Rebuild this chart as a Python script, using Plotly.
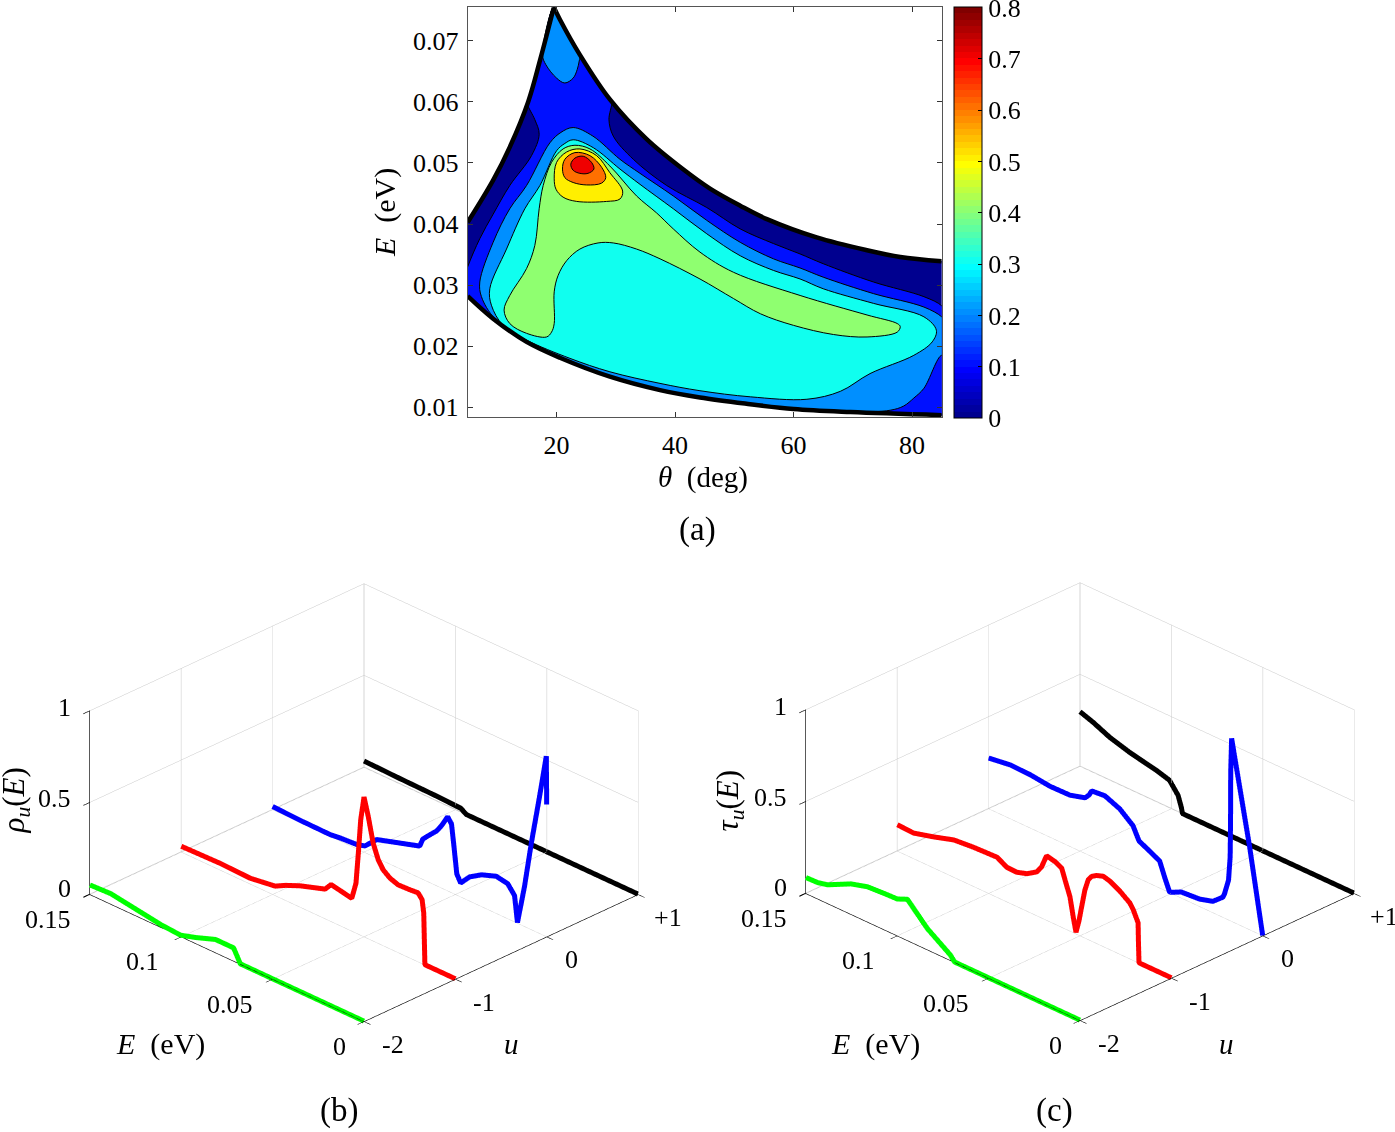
import plotly.graph_objects as go

W, H = 1395, 1132
FONT = "Liberation Serif"
BLACK = "#000000"

# ---------- panel (a): contour regions (theta deg, E eV)
upper_left_theta = [5, 9.3, 12.1, 15.2, 17.2, 19.54]
upper_left_E = [.0403, .0472, .0526, .0600, .0668, .0755]
upper_right_theta = [19.54, 20.56, 23.94, 29.0, 35.2, 41.3, 45.9, 51.0, 55.5, 63.9, 72.4, 78, 85]
upper_right_E = [.0755, .0735, .0677, .0604, .0539, .0490, .0458, .0430, .0408, .0378, .0357, .0346, .0339]
lower_theta = [5, 9.29, 14.93, 20.56, 29.0, 37.46, 44.2, 51.8, 60, 69.6, 85]
lower_E = [.0282, .0245, .0207, .0181, .0150, .0128, .0116, .0106, .0097, .0092, .0087]

# navy base region, carried past both side edges of the frame
base_theta = [1, 90, 90, 1]
base_E = [.0350, .0337, .0085, .0320]

blue_theta = [5, 7.04, 9.29, 12.1, 15.77, 17.06, 16.33, 15.1, 15.2, 17.2, 19.54, 20.56, 23.94, 29.0, 29.3, 28.84, 29.57, 32.95, 38.6, 45.35, 51, 56.6, 61.1, 65, 73.5, 82, 85, 86, 86, 85, 69.6, 60, 51.8, 44.2, 37.46, 29.0, 20.56, 14.93, 9.29, 5, 4]
blue_E = [.0330, .0376, .0416, .0463, .0512, .0547, .0571, .0596, .0600, .0668, .0755, .0735, .0677, .0604, .0599, .0571, .0544, .0506, .0463, .0427, .0392, .0368, .0351, .0335, .0305, .0281, .0266, .0250, .0087, .0087, .0092, .0097, .0106, .0116, .0128, .0150, .0181, .0207, .0245, .0282, .0300]

sky_theta = [9.57, 7.32, 7.04, 9.29, 12.1, 14.93, 18.87, 20.73, 22.8, 26.13, 30.7, 34.08, 39.7, 45.35, 51, 56.6, 61.1, 65, 73.5, 82, 85, 86, 86, 85, 82, 80.3, 78.6, 76.3, 69.6, 60, 51.8, 44.2, 37.46, 29, 20.56, 14.93]
sky_E = [.0245, .0281, .0305, .0370, .0425, .0463, .0533, .0550, .0558, .0544, .0506, .0483, .0446, .0406, .0370, .0343, .0328, .0313, .0286, .0264, .0248, .0235, .0175, .0185, .0131, .0115, .0102, .0095, .0092, .0097, .0106, .0116, .0128, .0150, .0181, .0207]

peak_theta = [19.54, 17.63, 18.19, 20, 21.4, 22.8, 23.48, 23.82, 23.94, 20.56]
peak_E = [.0755, .0677, .0661, .0639, .0631, .0639, .0653, .0667, .0677, .0735]

cyan_theta = [14.93, 10.97, 9, 8.73, 11.55, 14.64, 17.18, 20, 21.4, 22.8, 26.2, 30.7, 34.08, 39.7, 45.35, 51, 56.6, 61.1, 65, 73.5, 82, 84.1, 83.4, 80.3, 72.9, 67.9, 62.25, 52.7, 44.2, 37.46, 29, 22.25]
cyan_E = [.0210, .0234, .0267, .0294, .0359, .0425, .0463, .0520, .0532, .0538, .0525, .0490, .0465, .0425, .0384, .0348, .0324, .0310, .0294, .0270, .0248, .0226, .0207, .0185, .0155, .0126, .0113, .0117, .0127, .0139, .0158, .0180]

green_theta = [18.31, 14.93, 12.1, 11.14, 12.1, 14.93, 16.33, 17.06, 17.74, 19.15, 21.1, 23.1, 25.63, 29, 33.5, 36.9, 39.7, 44.2, 49.85, 61.1, 72.4, 77.5, 78, 77.5, 72.4, 66.75, 60, 54.4, 49.85, 44.2, 37.46, 33.5, 29.57, 27, 23.94, 21.7, 20.27, 19.6, 19.6, 19.15]
green_E = [.0215, .0221, .0237, .0259, .0283, .0327, .0365, .0425, .0463, .0501, .0523, .0529, .0523, .0495, .0446, .0418, .0392, .0354, .0321, .0283, .0251, .0237, .0232, .0223, .0215, .0219, .0234, .0253, .0278, .0310, .0343, .0359, .0369, .0369, .0359, .0340, .0316, .0289, .0237, .0223]

yellow_theta = [19.6, 20, 21.7, 23.94, 26.76, 29, 31.15, 30.7, 28.45, 23.4, 21.1, 19.9]
yellow_E = [.0474, .0501, .0518, .0523, .0512, .0484, .0454, .0441, .0437, .0437, .0444, .0457]

orange_theta = [21, 21.4, 23.1, 25.63, 27.6, 28.3, 27.6, 25.07, 22.8, 21.4]
orange_E = [.0490, .0506, .0517, .0512, .0493, .0476, .0467, .0464, .0468, .0476]

red_theta = [22.4, 23.1, 24.5, 25.9, 26.3, 25.3, 23.94, 22.8]
red_E = [.0498, .0508, .0511, .0501, .0490, .0483, .0483, .0488]

# ---------- panel (b): rho_u(E) curves
rho_black_E = [.15, .13, .11, .097, .094, 0]
rho_black = [.033, .028, .025, .02, 0, 0]
rho_blue_E = [.15, .135, .1185, .113, .104, .0995, .093, .0695, .0678, .0651, .0602, .0576, .0542, .0521, .0509, .0492, .0471, .0422, .0356, .0276, .0213, .0176, .016, .0122, .0084, .004, .0002, 0]
rho_blue = [.016, .01, .008, .015, .021, .034, .099, .172, .218, .247, .298, .338, .403, .373, .269, .114, .074, .13, .172, .201, .189, .142, .002, .213, .471, .74, .983, .72]
rho_red_E = [.15, .1286, .1122, .0986, .093, .0849, .0713, .068, .063, .0567, .0544, .0531, .0518, .05, .0477, .045, .0422, .0395, .0358, .0313, .0249, .0204, .0182, .0173, .0167, .0167, 0]
rho_red = [.03, .035, .03, .05, .08, .115, .16, .20, .19, .177, .27, .441, .629, .761, .667, .533, .454, .412, .384, .368, .371, .375, .348, .279, .009, 0, 0]
rho_green_E = [.15, .1386, .1223, .1113, .1004, .0923, .0813, .0714, .0677, 0]
rho_green = [.05, .055, .03, .013, .005, .03, .07, .07, 0, 0]

# ---------- panel (c): tau_u(E) curves
tau_black_E = [.15, .1428, .1337, .1227, .1082, .101, .0963, .0945, .0939, 0]
tau_black = [.297, .272, .232, .20, .17, .149, .088, .03, 0, 0]
tau_blue_E = [.15, .1382, .1272, .1164, .1055, .0972, .095, .0936, .0864, .0782, .071, .0677, .0564, .0536, .0509, .0446, .0345, .0273, .0218, .0209, .0187, .0178, .0176, .0175, .017, .0155, .0072, 0]
tau_blue = [.275, .292, .289, .276, .278, .302, .328, .356, .363, .329, .271, .203, .146, .068, 0, .031, .039, .06, .108, .131, .215, .348, .535, .812, .997, .912, .454, 0]
tau_red_E = [.15, .141, .13, .1191, .1082, .0954, .09, .0846, .079, .0736, .071, .0683, .0664, .0637, .06, .0582, .0555, .0537, .0522, .0505, .0491, .0473, .0455, .0436, .041, .0373, .0336, .0282, .0228, .0209, .0182, .018, .0177, 0]
tau_red = [.142, .138, .168, .202, .212, .217, .187, .185, .203, .238, .278, .35, .346, .34, .321, .265, .186, .083, .007, .08, .161, .261, .325, .352, .369, .382, .372, .343, .304, .276, .216, .106, 0, 0]
tau_green_E = [.15, .1436, .1382, .1254, .1164, .1073, .1, .0945, .0836, .071, .0686, 0]
tau_green = [.085, .087, .10, .164, .19, .196, .199, .223, .114, .028, 0, 0]

u_ticks = [-2, -1, 0, 1]
u_labels = ["-2", "-1", "0", "+1"]
E_ticks = [0.15, 0.1, 0.05, 0]
E_labels = ["0.15", "0.1", "0.05", "0"]
z_ticks = [0, 0.5, 1]
z_labels = ["0", "0.5", "1"]
cbar_ticks = [0, .1, .2, .3, .4, .5, .6, .7, .8]
cbar_labels = ["0", "0.1", "0.2", "0.3", "0.4", "0.5", "0.6", "0.7", "0.8"]


def rgb(t):
    def c(v):
        return round(255 * max(0.0, min(1.0, v)))
    return f"rgb({c(1.5 - abs(4 * t - 3))},{c(1.5 - abs(4 * t - 2))},{c(1.5 - abs(4 * t - 1))})"


steps = 64
stepped = []
for i in range(steps):
    col = rgb((i + 1) / steps)
    stepped += [[i / steps, col], [(i + 1) / steps, col]]

fig = go.Figure()
SMOOTH = 1.0


def region(th, en, color, outline=True):
    fig.add_trace(go.Scatter(
        x=th + th[:1], y=en + en[:1], mode="lines", fill="toself", fillcolor=color,
        line=dict(color=BLACK if outline else color, width=1, shape="spline", smoothing=SMOOTH),
        hoverinfo="skip", showlegend=False))


region(base_theta[:1] + upper_left_theta + upper_right_theta[1:] + base_theta[1:3] + lower_theta[::-1] + base_theta[3:],
       base_E[:1] + upper_left_E + upper_right_E[1:] + base_E[1:3] + lower_E[::-1] + base_E[3:],
       rgb(1 / 64), outline=False)
region(blue_theta, blue_E, rgb(9 / 64))
region(sky_theta, sky_E, rgb(17 / 64))
region(peak_theta, peak_E, rgb(17 / 64))
region(cyan_theta, cyan_E, rgb(25 / 64))
region(green_theta, green_E, rgb(33 / 64))
region(yellow_theta, yellow_E, rgb(41 / 64))
region(orange_theta, orange_E, rgb(49 / 64))
region(red_theta, red_E, rgb(57 / 64))

for tx, ty in ((upper_left_theta, upper_left_E), (upper_right_theta, upper_right_E), (lower_theta, lower_E)):
    fig.add_trace(go.Scatter(x=tx, y=ty, mode="lines",
                             line=dict(color=BLACK, width=4.5, shape="spline", smoothing=SMOOTH),
                             hoverinfo="skip", showlegend=False))

# colour bar
fig.add_trace(go.Scatter(
    x=[None, None], y=[None, None], mode="markers", hoverinfo="skip", showlegend=False,
    marker=dict(color=[0, 0.8], cmin=0, cmax=0.8005, colorscale=stepped, showscale=True,
                colorbar=dict(x=954.3 / W, xanchor="left", xref="paper", y=1 - 420 / H, yanchor="bottom",
                              yref="paper", len=412.7 / H, lenmode="fraction", thickness=28, thicknessmode="pixels",
                              xpad=0, ypad=0, outlinecolor=BLACK, outlinewidth=1, ticks="inside", ticklen=4,
                              tickcolor=BLACK, tickvals=cbar_ticks, ticktext=cbar_labels, ticklabeloverflow="allow",
                              tickfont=dict(family=FONT, size=26, color=BLACK))),
))


def curves(scene, sets):
    for en, z, u, col in sets:
        fig.add_trace(go.Scatter3d(x=[u] * len(en), y=en, z=z, mode="lines", scene=scene,
                                   line=dict(color=col, width=10), hoverinfo="skip", showlegend=False))


curves("scene", [(rho_black_E, rho_black, 1, "#000000"), (rho_blue_E, rho_blue, 0, "#0000ff"),
                 (rho_red_E, rho_red, -1, "#ff0000"), (rho_green_E, rho_green, -2, "#00ff00")])
curves("scene2", [(tau_black_E, tau_black, 1, "#000000"), (tau_blue_E, tau_blue, 0, "#0000ff"),
                  (tau_red_E, tau_red, -1, "#ff0000"), (tau_green_E, tau_green, -2, "#00ff00")])


def scene_notes():
    notes = []
    base = dict(showarrow=False, font=dict(family=FONT, size=26, color=BLACK), yanchor="middle")
    for e, t, dx in zip(E_ticks, E_labels, (-17, -20, -18, -16)):
        notes.append(dict(base, x=-2, y=e, z=0, text=t, xanchor="right", xshift=dx, yshift=-25))
    for u, t, dx in zip(u_ticks, u_labels, (16, 16, 16, 14)):
        notes.append(dict(base, x=u, y=0, z=0, text=t, xanchor="left", xshift=dx, yshift=-23))
    for z, t, dy in zip(z_ticks, z_labels, (6, 4, 4)):
        notes.append(dict(base, x=-2, y=0.15, z=z, text=t, xanchor="right", xshift=-17, yshift=dy))
    return notes


def scene_cfg(cx, cy):
    half_w, half_h = 315, 300
    ax = dict(showbackground=False, showgrid=True, gridcolor="#c8c8c8", gridwidth=1, zeroline=False,
              showline=True, linecolor=BLACK, linewidth=1.4, ticks="outside", ticklen=9, tickcolor=BLACK,
              tickwidth=1.4, showticklabels=False, title=dict(text=""), showspikes=False, autorange=False)
    A = 1.30
    return dict(
        domain=dict(x=[(cx - half_w) / W, (cx + half_w) / W], y=[1 - (cy + half_h) / H, 1 - (cy - half_h) / H]),
        xaxis=dict(ax, range=[-2.002, 1.002], tickvals=u_ticks),
        yaxis=dict(ax, range=[-0.0001, 0.1501], tickvals=E_ticks),
        zaxis=dict(ax, range=[-0.002, 1.002], tickvals=z_ticks),
        aspectmode="manual", aspectratio=dict(x=A, y=A, z=0.535 * A),
        camera=dict(projection=dict(type="orthographic"), up=dict(x=0, y=0, z=1), center=dict(x=0, y=0, z=0),
                    eye=dict(x=-1, y=-1, z=0.74)),
        bgcolor="white", annotations=scene_notes())


def note(px, py, text, size=25, angle=0):
    return dict(xref="paper", yref="paper", x=px / W, y=1 - py / H, text=text, showarrow=False,
                xanchor="center", yanchor="middle", textangle=angle,
                font=dict(family=FONT, size=size, color=BLACK))


notes = [
    note(703, 480, "<i>θ</i>&nbsp;&nbsp;(deg)", 29),
    note(385, 214, "<i>E</i>&nbsp;&nbsp;(eV)", 30, -90),
    note(697, 532, "(a)", 33),
    note(339, 1115, "(b)", 33),
    note(1054, 1115, "(c)", 33),
    note(160, 1049, "<i>E</i>&nbsp;&nbsp;(eV)", 30),
    note(511, 1049, "<i>u</i>", 29),
    note(875, 1049, "<i>E</i>&nbsp;&nbsp;(eV)", 30),
    note(1226, 1049, "<i>u</i>", 29),
    note(16, 804, "<i>ρ<sub>u</sub></i>(<i>E</i>)", 31, -90),
    note(730, 804, "<i>τ<sub>u</sub></i>(<i>E</i>)", 31, -90),
]

box = dict(showline=True, linecolor="#555555", linewidth=1, mirror="ticks", ticks="inside", ticklen=5,
           tickcolor="#333333", tickwidth=1, showgrid=False, zeroline=False,
           tickfont=dict(family=FONT, size=26, color=BLACK))

fig.update_layout(
    width=W, height=H, margin=dict(l=0, r=0, t=0, b=0), paper_bgcolor="white", plot_bgcolor="white",
    showlegend=False,
    xaxis=dict(box, domain=[467.7 / W, 941.7 / W], range=[5, 85], tickvals=[20, 40, 60, 80], ticklabelstandoff=5),
    yaxis=dict(box, domain=[1 - 419 / H, 1 - 7.3 / H], range=[0.00837, 0.0755], ticklabelstandoff=3,
               tickvals=[.01, .02, .03, .04, .05, .06, .07], ticktext=["0.01", "0.02", "0.03", "0.04", "0.05", "0.06", "0.07"]),
    scene=scene_cfg(364, 806.5), scene2=scene_cfg(1080, 805.5),
    annotations=notes,
)

fig.write_html("out.html", post_script="document.body.style.margin='0';", config=dict(displayModeBar=False))
